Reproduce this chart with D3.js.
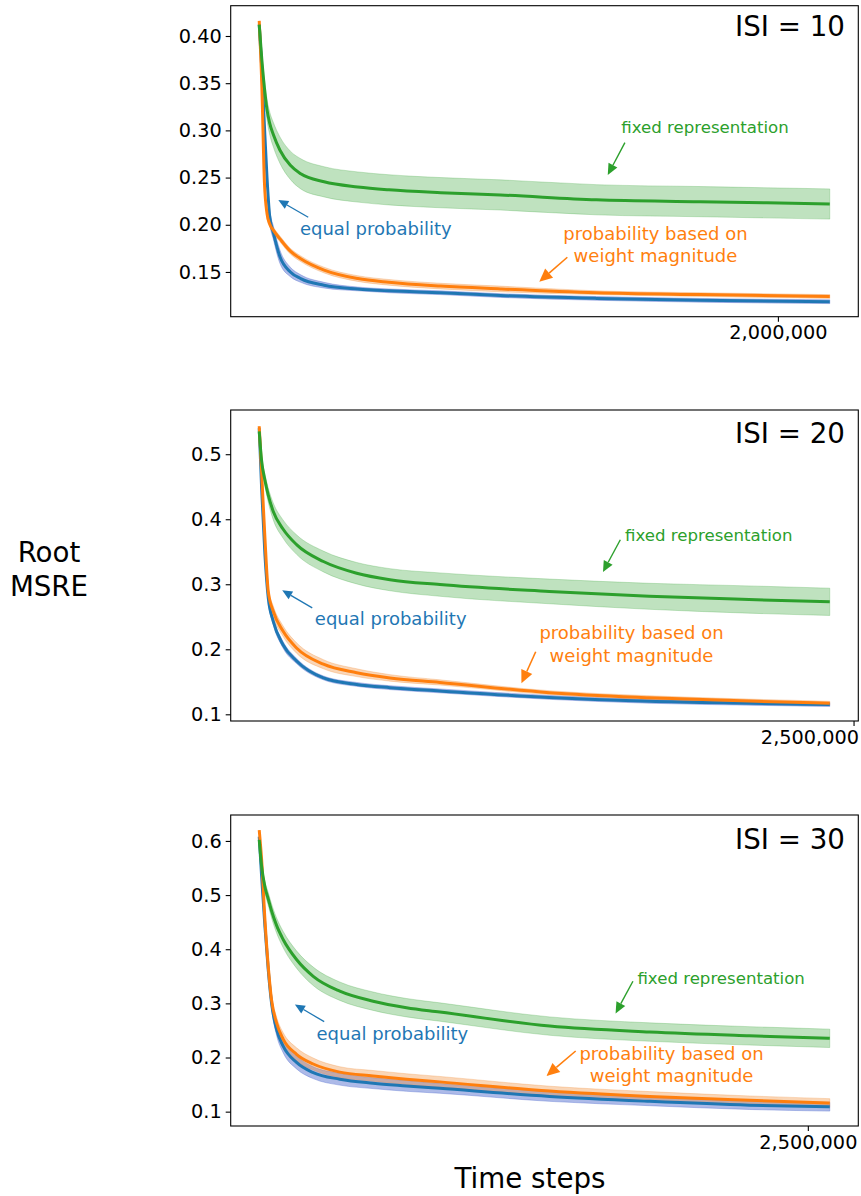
<!DOCTYPE html>
<html>
<head>
<meta charset="utf-8">
<script src="https://cdn.jsdelivr.net/npm/d3@7"></script>
<style>
  body { margin: 0; background: #fff; }
  svg { display: block; font-family: "DejaVu Sans", sans-serif; }
</style>
</head>
<body>
<script>
const W = 861, H = 1196;

// ---- data ----
const isiLabels = ["ISI = 10", "ISI = 20", "ISI = 30"];
const xTickValues = [2000000, 2500000, 2500000];
const xMax = [2200000, 2400000, 2600000];
const yTicks = [
  [0.15, 0.20, 0.25, 0.30, 0.35, 0.40],
  [0.1, 0.2, 0.3, 0.4, 0.5],
  [0.1, 0.2, 0.3, 0.4, 0.5, 0.6]
];
const yFormats = [".2f", ".1f", ".1f"];
const yDomains = [[0.1026, 0.4321], [0.0897, 0.568], [0.0735, 0.6479]];

// ISI = 10
const steps10 = [0, 10000, 20000, 30000, 40000, 55000, 80000, 120000, 160000, 250000, 380000, 500000, 700000, 930000, 1300000, 1700000, 2200000];
const equal10 = [0.412, 0.365, 0.305, 0.250, 0.210, 0.191, 0.166, 0.150, 0.143, 0.136, 0.132, 0.130, 0.128, 0.125, 0.122, 0.120, 0.1185];
const equal10Sd = [0, 0.002, 0.004, 0.006, 0.007, 0.007, 0.007, 0.005, 0.004, 0.003, 0.002, 0.002, 0.002, 0.002, 0.002, 0.002, 0.002];
const weight10 = [0.416, 0.348, 0.245, 0.212, 0.201, 0.194, 0.185, 0.172, 0.164, 0.152, 0.143, 0.139, 0.135, 0.132, 0.128, 0.126, 0.124];
const weight10Sd = [0, 0.002, 0.003, 0.003, 0.003, 0.003, 0.003, 0.003, 0.003, 0.003, 0.003, 0.003, 0.003, 0.003, 0.002, 0.002, 0.002];
const fixed10 = [0.412, 0.375, 0.345, 0.322, 0.308, 0.295, 0.279, 0.263, 0.254, 0.2455, 0.240, 0.237, 0.234, 0.2316, 0.2265, 0.2245, 0.222];
const fixed10Sd = [0, 0.006, 0.009, 0.011, 0.012, 0.013, 0.014, 0.015, 0.016, 0.016, 0.016, 0.016, 0.016, 0.016, 0.016, 0.016, 0.016];

// ISI = 20
const steps20 = [0, 10000, 24000, 38000, 59000, 100000, 157000, 270000, 410000, 550000, 760000, 1220000, 1640000, 2060000, 2400000];
const equal20 = [0.540, 0.448, 0.3455, 0.279, 0.243, 0.207, 0.182, 0.156, 0.146, 0.141, 0.136, 0.126, 0.120, 0.117, 0.115];
const equal20Sd = [0, 0.002, 0.004, 0.005, 0.005, 0.005, 0.004, 0.003, 0.003, 0.003, 0.003, 0.003, 0.003, 0.003, 0.003];
const weight20 = [0.543, 0.473, 0.371, 0.289, 0.2585, 0.228, 0.202, 0.177, 0.164, 0.156, 0.149, 0.1333, 0.1256, 0.1204, 0.117];
const weight20Sd = [0, 0.003, 0.005, 0.006, 0.008, 0.008, 0.008, 0.007, 0.006, 0.005, 0.004, 0.003, 0.003, 0.003, 0.003];
const fixed20 = [0.535, 0.490, 0.460, 0.437, 0.412, 0.385, 0.361, 0.335, 0.317, 0.307, 0.2995, 0.289, 0.2815, 0.2765, 0.273];
const fixed20Sd = [0, 0.006, 0.009, 0.011, 0.013, 0.014, 0.015, 0.016, 0.0165, 0.017, 0.018, 0.019, 0.020, 0.021, 0.021];

// ISI = 30
const steps30 = [0, 11000, 26000, 41000, 56000, 79000, 109000, 170000, 246000, 367000, 519000, 671000, 823000, 1324000, 1779000, 2234000, 2600000];
const equal30 = [0.608, 0.534, 0.442, 0.3625, 0.301, 0.252, 0.221, 0.191, 0.172, 0.160, 0.1526, 0.1476, 0.143, 0.128, 0.119, 0.112, 0.109];
const equal30Sd = [0, 0.003, 0.006, 0.008, 0.010, 0.011, 0.012, 0.012, 0.011, 0.011, 0.010, 0.010, 0.009, 0.009, 0.008, 0.008, 0.008];
const weight30 = [0.620, 0.565, 0.4545, 0.369, 0.307, 0.264, 0.234, 0.206, 0.188, 0.173, 0.166, 0.160, 0.155, 0.138, 0.128, 0.121, 0.116];
const weight30Sd = [0, 0.004, 0.007, 0.009, 0.010, 0.011, 0.012, 0.012, 0.011, 0.010, 0.010, 0.010, 0.010, 0.009, 0.009, 0.008, 0.008];
const fixed30 = [0.602, 0.553, 0.515, 0.493, 0.471, 0.444, 0.418, 0.381, 0.350, 0.3225, 0.304, 0.292, 0.284, 0.258, 0.247, 0.240, 0.2354];
const fixed30Sd = [0, 0.005, 0.010, 0.012, 0.013, 0.014, 0.015, 0.016, 0.017, 0.017, 0.017, 0.017, 0.017, 0.017, 0.017, 0.017, 0.017];

const seriesNames = ["equal probability", "probability based on weight magnitude", "fixed representation"];
const colors = ["#1f77b4", "#ff7f0e", "#2ca02c"];
const bandColors = ["#4a66cc", "#f08a30", "#2ca02c"];
const bandOpacity = [0.45, 0.35, 0.3];

// annotations in data coords: [textT, textV, arrowFromT, arrowFromV, tipT, tipV]
const notesFixed = [[1719000, 0.2967, 1410000, 0.287, 1344000, 0.2528],
                    [1891000, 0.3659, 1519000, 0.3685, 1446000, 0.3189],
                    [2105000, 0.3349, 1703000, 0.3409, 1624000, 0.2815]];
const notesEqual = [[157000, 0.1892, 189000, 0.208, 73600, 0.2263],
                    [234000, 0.2381, 223000, 0.2637, 96700, 0.2907],
                    [261000, 0.2317, 296000, 0.2662, 162500, 0.2980]];
const notesWeight = [[1528000, 0.1839, 1188000, 0.1656, 1080000, 0.1397],
                     [1566000, 0.2151, 1163000, 0.1962, 1103000, 0.1476],
                     [1879000, 0.1955, 1442000, 0.2120, 1309000, 0.1660]];

const panelSteps = [steps10, steps20, steps30];
const panelSeries = [
  [[equal10, equal10Sd], [weight10, weight10Sd], [fixed10, fixed10Sd]],
  [[equal20, equal20Sd], [weight20, weight20Sd], [fixed20, fixed20Sd]],
  [[equal30, equal30Sd], [weight30, weight30Sd], [fixed30, fixed30Sd]]
];

// ---- layout ----
const left = 230.7, right = 858.3;
const tops = [5.7, 410, 815];
const panelH = 311;

const svg = d3.select("body").append("svg")
  .attr("width", W)
  .attr("height", H);

function arrow(g, x1, y1, x2, y2, color, width, headLen, headW) {
  const ang = Math.atan2(y2 - y1, x2 - x1);
  const bx = x2 - headLen * Math.cos(ang), by = y2 - headLen * Math.sin(ang);
  g.append("line")
    .attr("x1", x1).attr("y1", y1).attr("x2", bx).attr("y2", by)
    .attr("stroke", color).attr("stroke-width", width);
  const px = -Math.sin(ang) * headW, py = Math.cos(ang) * headW;
  g.append("path")
    .attr("d", `M${x2},${y2}L${bx + px},${by + py}L${bx - px},${by - py}Z`)
    .attr("fill", color);
}

panelSteps.forEach((steps, p) => {
  const top = tops[p], bottom = top + panelH;
  const pad = xMax[p] * 0.05;
  const x = d3.scaleLinear().domain([-pad, xMax[p] + pad]).range([left, right]);
  const y = d3.scaleLinear().domain(yDomains[p]).range([bottom, top]);
  const g = svg.append("g");

  const clip = "clip" + p;
  svg.append("clipPath").attr("id", clip)
    .append("rect").attr("x", left).attr("y", top).attr("width", right - left).attr("height", panelH);
  const plot = g.append("g").attr("clip-path", `url(#${clip})`);

  panelSeries[p].forEach(([mean, sd], s) => {
    const rows = steps.map((t, i) => ({ t, m: mean[i], sd: sd[i] }));
    const area = d3.area()
      .x(d => x(d.t))
      .y0(d => y(d.m - d.sd))
      .y1(d => y(d.m + d.sd))
      .curve(d3.curveMonotoneX);
    plot.append("path")
      .datum(rows)
      .attr("d", area)
      .attr("fill", bandColors[s])
      .attr("fill-opacity", bandOpacity[s])
      .attr("stroke", bandColors[s])
      .attr("stroke-opacity", bandOpacity[s] * 0.8)
      .attr("stroke-width", 1);
  });
  panelSeries[p].forEach(([mean], s) => {
    const rows = steps.map((t, i) => ({ t, m: mean[i] }));
    const line = d3.line()
      .x(d => x(d.t))
      .y(d => y(d.m))
      .curve(d3.curveMonotoneX);
    plot.append("path")
      .datum(rows)
      .attr("d", line)
      .attr("fill", "none")
      .attr("stroke", colors[s])
      .attr("stroke-width", 3)
      .attr("stroke-linejoin", "round");
  });

  // axes
  const yAxis = d3.axisLeft(y).tickValues(yTicks[p]).tickFormat(d3.format(yFormats[p]))
    .tickSize(5).tickPadding(4);
  const yg = g.append("g").attr("transform", `translate(${left},0)`).call(yAxis);
  yg.select(".domain").remove();
  yg.selectAll("text").attr("font-size", 19.3).attr("fill", "#000")
    .attr("font-family", "DejaVu Sans");
  yg.selectAll("line").attr("stroke", "#000").attr("stroke-width", 1.1);

  const xAxis = d3.axisBottom(x).tickValues([xTickValues[p]]).tickFormat(d3.format(","))
    .tickSize(5).tickPadding(4);
  const xg = g.append("g").attr("transform", `translate(0,${bottom})`).call(xAxis);
  xg.select(".domain").remove();
  xg.selectAll("text").attr("font-size", 19.3).attr("fill", "#000")
    .attr("font-family", "DejaVu Sans");
  // keep a label that would run past the figure edge inside it
  xg.selectAll("text").each(function () {
    const tx = x(xTickValues[p]);
    const wdt = this.getComputedTextLength();
    if (tx + wdt / 2 > W - 2) {
      d3.select(this).attr("text-anchor", "end").attr("x", (W - 2.5) - tx);
    }
  });
  xg.selectAll("line").attr("stroke", "#000").attr("stroke-width", 1.1);

  g.append("rect")
    .attr("x", left).attr("y", top)
    .attr("width", right - left).attr("height", panelH)
    .attr("fill", "none").attr("stroke", "#000").attr("stroke-width", 1.1);

  g.append("text")
    .attr("x", right - 13.3)
    .attr("y", top + [30.3, 33.3, 34][p])
    .attr("text-anchor", "end")
    .attr("font-size", 27.7)
    .text(isiLabels[p]);

  // annotations
  const nf = notesFixed[p];
  g.append("text").attr("x", x(nf[0])).attr("y", y(nf[1]))
    .attr("text-anchor", "middle").attr("font-size", 16.6).attr("fill", colors[2])
    .text(seriesNames[2]);
  arrow(g, x(nf[2]), y(nf[3]), x(nf[4]), y(nf[5]), colors[2], 1.4, 11, 5);

  const ne = notesEqual[p];
  g.append("text").attr("x", x(ne[0])).attr("y", y(ne[1]))
    .attr("text-anchor", "start").attr("font-size", 18).attr("fill", colors[0])
    .text(seriesNames[0]);
  arrow(g, x(ne[2]), y(ne[3]), x(ne[4]), y(ne[5]), colors[0], 1.3, 10, 4.5);

  const nw = notesWeight[p];
  const wt = g.append("text").attr("x", x(nw[0])).attr("y", y(nw[1]))
    .attr("text-anchor", "middle").attr("font-size", 18).attr("fill", colors[1]);
  wt.append("tspan").attr("x", x(nw[0])).text("probability based on");
  wt.append("tspan").attr("x", x(nw[0])).attr("dy", 22.5).text("weight magnitude");
  arrow(g, x(nw[2]), y(nw[3]), x(nw[4]), y(nw[5]), colors[1], 1.6, 13, 6);
});

// figure labels
const yl = svg.append("text").attr("text-anchor", "middle").attr("font-size", 27.7);
yl.append("tspan").attr("x", 49).attr("y", 561.7).text("Root");
yl.append("tspan").attr("x", 49).attr("y", 596).text("MSRE");

svg.append("text")
  .attr("x", 530).attr("y", 1188)
  .attr("text-anchor", "middle")
  .attr("font-size", 27.7)
  .text("Time steps");
</script>
</body>
</html>
